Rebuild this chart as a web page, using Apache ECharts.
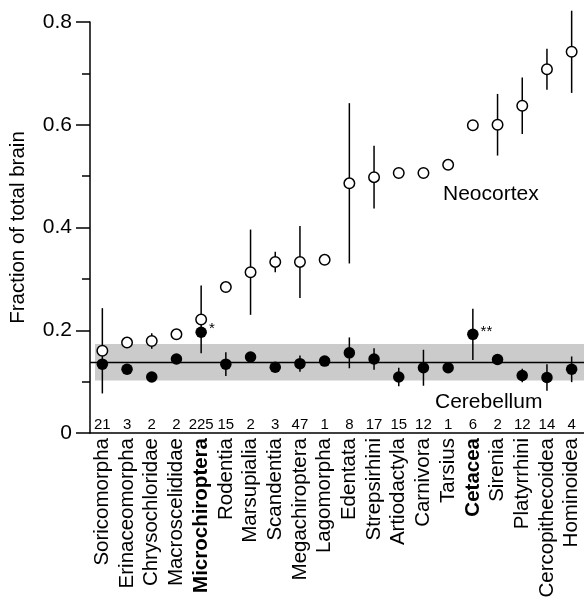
<!DOCTYPE html>
<html>
<head>
<meta charset="utf-8">
<script src="https://cdn.jsdelivr.net/npm/echarts@6/dist/echarts.min.js"></script>
<style>
  html, body { margin: 0; padding: 0; background: #fff; }
  #main { width: 584px; height: 603px; }
</style>
</head>
<body>
<div id="main"></div>
<script>
const categories = ['Soricomorpha', 'Erinaceomorpha', 'Chrysochloridae', 'Macroscelididae', 'Microchiroptera',
  'Rodentia', 'Marsupialia', 'Scandentia', 'Megachiroptera', 'Lagomorpha', 'Edentata', 'Strepsirhini',
  'Artiodactyla', 'Carnivora', 'Tarsius', 'Cetacea', 'Sirenia', 'Platyrrhini', 'Cercopithecoidea', 'Hominoidea']
const counts = [21, 3, 2, 2, 225, 15, 2, 3, 47, 1, 8, 17, 15, 12, 1, 6, 2, 12, 14, 4]
const boldOrders = ['Microchiroptera', 'Cetacea']

const neocortex = [0.160, 0.176, 0.179, 0.192, 0.221, 0.284, 0.313, 0.333, 0.333, 0.337,
  0.486, 0.498, 0.506, 0.506, 0.522, 0.599, 0.600, 0.637, 0.708, 0.742]
const neocortexErr = [0.083, 0, 0.015, 0, 0.066, 0, 0.083, 0.020, 0.070, 0,
  0.156, 0.061, 0, 0, 0, 0, 0.060, 0.055, 0.040, 0.080]

const cerebellum = [0.134, 0.124, 0.109, 0.144, 0.196, 0.134, 0.148, 0.128, 0.135, 0.140,
  0.156, 0.144, 0.109, 0.127, 0.127, 0.192, 0.143, 0.112, 0.108, 0.124]
const cerebellumErr = [0, 0, 0, 0, 0, 0.023, 0, 0, 0.016, 0,
  0.030, 0.021, 0.018, 0.035, 0, 0.050, 0, 0.013, 0.026, 0.025]
const cerebellumSig = ['', '', '', '', '*', '', '', '', '', '', '', '', '', '', '', '**', '', '', '', '']

// cerebellum mean and spread band
const band = [0.102, 0.173]
const bandMean = 0.137

const yTicks = [0, 0.2, 0.4, 0.6, 0.8]

const FONT = "'Liberation Sans', Arial, Helvetica, sans-serif"
const INK = '#000'

function errData(vals, errs) {
  const out = []
  vals.forEach((v, i) => {
    if (errs[i] > 0) out.push([i, v - errs[i], v + errs[i]])
  })
  return out
}

function renderErr(params, api) {
  const a = api.coord([api.value(0), api.value(1)])
  const b = api.coord([api.value(0), api.value(2)])
  return {
    type: 'line',
    shape: { x1: a[0], y1: a[1], x2: b[0], y2: b[1] },
    style: { stroke: INK, lineWidth: 1.5 }
  }
}

function renderBand(params, api) {
  const cs = params.coordSys
  const lo = api.coord([0, api.value(1)])[1]
  const hi = api.coord([0, api.value(2)])[1]
  const mid = api.coord([0, api.value(3)])[1]
  return {
    type: 'group',
    children: [
      { type: 'rect', shape: { x: cs.x + 5, y: hi, width: cs.width - 5, height: lo - hi }, style: { fill: '#cbcbcb' } },
      { type: 'line', shape: { x1: cs.x, y1: mid, x2: cs.x + cs.width, y2: mid }, style: { stroke: INK, lineWidth: 1.5 } }
    ]
  }
}

const chart = echarts.init(document.getElementById('main'))

chart.setOption({
  animation: false,
  textStyle: { fontFamily: FONT, color: INK },
  grid: { left: 88, right: 0, top: 22, bottom: 170 },
  xAxis: [
    {
      type: 'category',
      data: categories,
      axisLine: { lineStyle: { color: INK, width: 1.5 } },
      axisTick: { show: false },
      axisLabel: {
        interval: 0,
        rotate: 90,
        margin: 5,
        fontSize: 20.5,
        color: INK,
        fontFamily: FONT,
        formatter: v => boldOrders.includes(v) ? '{b|' + v + '}' : v,
        rich: { b: { fontWeight: 'bold', fontSize: 20.5, fontFamily: FONT, color: INK } }
      }
    },
    {
      // sample sizes written just above the axis
      type: 'category',
      data: categories,
      position: 'bottom',
      axisLine: { show: false },
      axisTick: { show: false },
      axisLabel: {
        interval: 0,
        inside: true,
        margin: 1,
        fontSize: 15,
        color: INK,
        fontFamily: FONT,
        formatter: (v, i) => String(counts[i])
      }
    }
  ],
  yAxis: {
    type: 'value',
    min: yTicks[0],
    max: yTicks[yTicks.length - 1],
    interval: 0.2,
    name: 'Fraction of total brain',
    nameLocation: 'middle',
    nameGap: 61,
    nameTextStyle: { fontSize: 20.5, color: INK, fontFamily: FONT },
    splitLine: { show: false },
    axisLine: { show: true, lineStyle: { color: INK, width: 1.5 } },
    axisTick: { show: true, length: 14, lineStyle: { color: INK, width: 1.5 } },
    minorTick: { show: true, splitNumber: 2, length: 8, lineStyle: { color: INK, width: 1.5 } },
    axisLabel: {
      margin: 18,
      fontSize: 21,
      color: INK,
      fontFamily: FONT,
      formatter: v => yTicks.includes(v) ? (v === 0 ? '0' : v.toFixed(1)) : ''
    }
  },
  graphic: [
    { type: 'text', x: 443, y: 194, style: { text: 'Neocortex', font: '21px ' + FONT, fill: INK, verticalAlign: 'middle' } },
    { type: 'text', x: 435, y: 402, style: { text: 'Cerebellum', font: '21px ' + FONT, fill: INK, verticalAlign: 'middle' } }
  ],
  series: [
    {
      type: 'custom',
      z: 1,
      renderItem: renderBand,
      encode: { x: 0, y: [1, 2, 3] },
      data: [[0, band[0], band[1], bandMean]],
      silent: true
    },
    {
      type: 'custom',
      z: 2,
      renderItem: renderErr,
      encode: { x: 0, y: [1, 2] },
      data: errData(neocortex, neocortexErr),
      silent: true
    },
    {
      type: 'custom',
      z: 2,
      renderItem: renderErr,
      encode: { x: 0, y: [1, 2] },
      data: errData(cerebellum, cerebellumErr),
      silent: true
    },
    {
      name: 'Neocortex',
      type: 'scatter',
      z: 3,
      symbol: 'circle',
      symbolSize: 10.5,
      itemStyle: { color: '#fff', borderColor: INK, borderWidth: 1.5, opacity: 1 },
      data: neocortex,
      silent: true
    },
    {
      name: 'Cerebellum',
      type: 'scatter',
      z: 4,
      symbol: 'circle',
      symbolSize: 11.5,
      itemStyle: { color: INK, opacity: 1 },
      label: {
        show: true,
        position: 'right',
        distance: 2,
        offset: [0, -3],
        fontSize: 15,
        color: INK,
        fontFamily: FONT,
        formatter: p => cerebellumSig[p.dataIndex]
      },
      data: cerebellum,
      silent: true
    }
  ]
})
</script>
</body>
</html>
